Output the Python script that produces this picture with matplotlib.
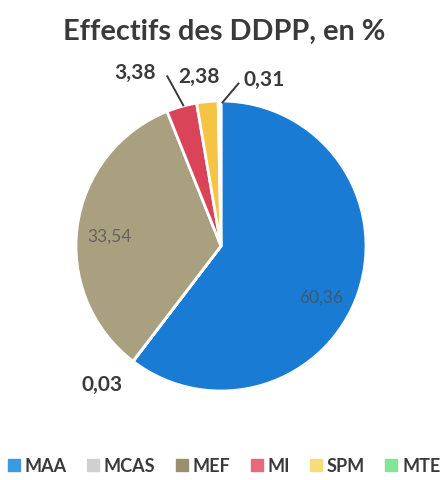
import numpy as np
import matplotlib
matplotlib.use('Agg')
import matplotlib.pyplot as plt

# data
labels = ['MAA', 'MCAS', 'MEF', 'MI', 'SPM', 'MTE']
values = [60.36, 0.03, 33.54, 3.38, 2.38, 0.31]
value_text = ['60,36', '0,03', '33,54', '3,38', '2,38', '0,31']
colors = ['#1A7BD4', '#C8C8C8', '#A8A07F', '#DA4459', '#F6C445', '#7EDC8E']
legend_colors = ['#3B9BE2', '#D0D0D0', '#9A9070', '#E56A7C', '#F9DC7A', '#86E29A']

# label layout (pie data coords, radius = 1)
label_pos = [(0.69, -0.35), (-0.82, -0.95), (-0.77, 0.07),
             (-0.59, 1.20), (-0.15, 1.17), (0.30, 1.15)]
label_inside = [True, False, True, False, False, False]
leaders = {3: ((-0.37, 1.17), (-0.26, 0.97)),
           5: ((0.12, 1.12), (0.01, 0.99))}

plt.rcParams['font.family'] = ['Lato', 'DejaVu Sans']

fig = plt.figure(figsize=(4.41, 4.81), dpi=100)
cx, cy, r = 221, 247, 145
W, H = 441, 481
ax = fig.add_axes([(cx - r) / W, (H - cy - r) / H, 2 * r / W, 2 * r / H])

wedges, _ = ax.pie(values, colors=colors, startangle=90, counterclock=False,
                   radius=1, wedgeprops=dict(edgecolor='white', linewidth=2))
ax.set_xlim(-1, 1)
ax.set_ylim(-1, 1)
ax.set_aspect('auto')
ax.axis('off')

for i, txt in enumerate(value_text):
    x, y = label_pos[i]
    if label_inside[i]:
        ax.text(x, y, txt, ha='center', va='center', fontsize=12.5,
                color='#4a4a4a', alpha=0.7, clip_on=False)
    else:
        ax.text(x, y, txt, ha='center', va='center', fontsize=15,
                fontweight='bold', color='#3a3a3a', clip_on=False)

for i, (p0, p1) in leaders.items():
    ax.plot([p0[0], p1[0]], [p0[1], p1[1]], color='#3a3a3a', lw=1.4,
            clip_on=False)

fig.text(224 / W, 1 - 32 / H, 'Effectifs des DDPP, en %', ha='center',
         va='center', fontsize=20.8, fontweight='bold', color='#3a3a3a')

handles = [plt.Line2D([], [], marker='s', linestyle='', markersize=8,
                      markerfacecolor=c, markeredgecolor=c) for c in legend_colors]
leg = fig.legend(handles, labels, loc='center', bbox_to_anchor=(0.51, 1 - 467 / H),
                 ncol=6, frameon=False, handlelength=0.5, handletextpad=0.35,
                 columnspacing=1.2, prop=dict(size=13, weight='bold'))
for t in leg.get_texts():
    t.set_color('#3a3a3a')

fig.savefig('out.png', dpi=100)
